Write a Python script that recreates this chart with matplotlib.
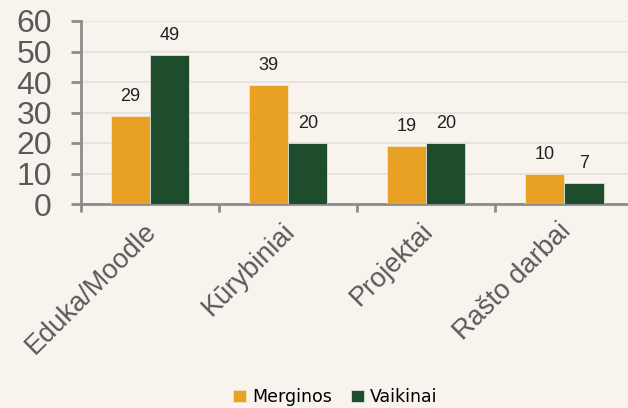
import matplotlib
matplotlib.use("Agg")
from matplotlib import pyplot as plt
import numpy as np

categories = ["Eduka/Moodle", "Kūrybiniai", "Projektai", "Rašto darbai"]
merginos = [29, 39, 19, 10]
vaikinai = [49, 20, 20, 7]
series_names = ["Merginos", "Vaikinai"]

bg = "#F8F4ED"
c_orange = "#E8A122"
c_green = "#1D4D2C"
axis_grey = "#8C8C8C"
text_grey = "#5A5A5A"

plt.rcParams["font.family"] = ["Liberation Sans", "DejaVu Sans"]

fig = plt.figure(figsize=(6.28, 4.08), dpi=100, facecolor=bg)
ax = fig.add_axes([81 / 628, 0.5, 1 - 81 / 628, 0.5 - 21 / 408])
ax.set_facecolor(bg)

x = np.arange(len(categories))
w = 0.283
b1 = ax.bar(x - w / 2, merginos, w, color=c_orange, edgecolor="#F3E6C8", linewidth=0.6,
            label=series_names[0], zorder=3)
b2 = ax.bar(x + w / 2, vaikinai, w, color=c_green, edgecolor="#DCE3DC", linewidth=0.6,
            label=series_names[1], zorder=3)

for bars, vals in ((b1, merginos), (b2, vaikinai)):
    for r, v in zip(bars, vals):
        ax.text(r.get_x() + r.get_width() / 2, v + 3.6, str(v), ha="center", va="bottom",
                fontsize=13, color="#222222")

ax.set_xlim(-0.5, 3.46)
ax.set_ylim(0, 60)
ax.set_yticks(range(0, 61, 10))
ax.set_yticklabels([str(v) for v in range(0, 61, 10)], fontsize=23, color=text_grey)
ax.set_xticks(x - 0.5, minor=False)
ax.set_xticklabels([])
ax.set_xticks(x - 0.045, minor=True)
ax.set_xticklabels(categories, minor=True, rotation=45, ha="right", va="top",
                   rotation_mode="anchor", fontsize=19.5, color=text_grey)
ax.tick_params(axis="x", which="minor", length=0, pad=10)
ax.tick_params(axis="x", which="major", length=6, width=2, color=axis_grey)
ax.tick_params(axis="y", length=7, width=2, color=axis_grey, pad=14)

ax.grid(axis="y", color="#E3E1DD", linewidth=1.2, zorder=0)
for s in ("top", "right"):
    ax.spines[s].set_visible(False)
for s in ("left", "bottom"):
    ax.spines[s].set_color(axis_grey)
    ax.spines[s].set_linewidth(2)

fig.legend(loc="center", bbox_to_anchor=(0.534, 11 / 408), ncol=2, frameon=False,
           handlelength=0.75, handleheight=0.75, handletextpad=0.35,
           columnspacing=1.1, prop={"family": "DejaVu Sans", "size": 12.5})

fig.savefig("out.png", dpi=100, facecolor=bg)
